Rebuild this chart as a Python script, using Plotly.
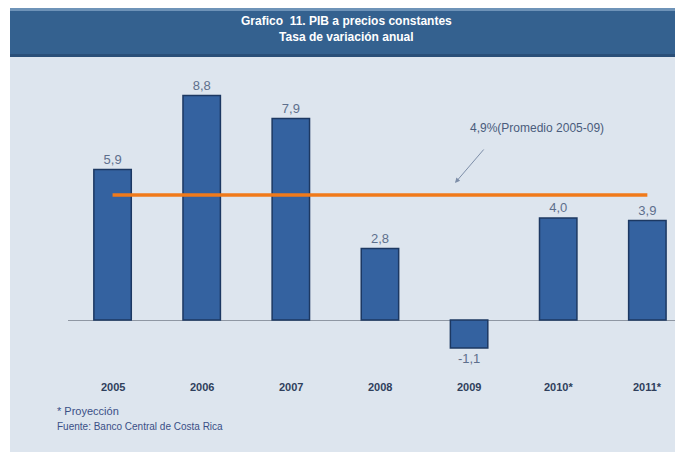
import plotly.graph_objects as go

categories = ["2005", "2006", "2007", "2008", "2009", "2010*", "2011*"]
values = [5.9, 8.8, 7.9, 2.8, -1.1, 4.0, 3.9]
value_labels = ["5,9", "8,8", "7,9", "2,8", "-1,1", "4,0", "3,9"]
average = 4.9
average_label = "4,9%(Promedio 2005-09)"
title_lines = ["Grafico  11. PIB a precios constantes", "Tasa de variación anual"]
footnotes = ["* Proyección", "Fuente: Banco Central de Costa Rica"]

OFF = 8  # page body margin
W, H = 683, 452
ML, MR, MT, MB = 68 - OFF, 8, 65 - OFF, H - (445 - OFF)
pw, ph = W - ML - MR, H - MT - MB


def px(xs):
    return (xs - OFF - ML) / pw


def py(ys):
    return (H - MB - (ys - OFF)) / ph


fig = go.Figure()

fig.add_trace(go.Bar(
    x=list(range(len(categories))), y=values,
    text=value_labels, textposition="outside",
    textfont=dict(family="Liberation Sans", size=13, color="#5d6f8c"),
    marker=dict(color="#3462a0", line=dict(color="#1c3862", width=1.5)),
    width=0.42, cliponaxis=False, showlegend=False,
))

fig.add_trace(go.Scatter(
    x=[0, len(categories) - 1], y=[average, average], mode="lines",
    line=dict(color="#f07a1a", width=3.5), showlegend=False, hoverinfo="skip",
))

shapes = [
    dict(type="rect", xref="paper", yref="paper", x0=px(10), x1=px(W + OFF), y0=py(H + OFF), y1=py(57),
         fillcolor="#dde5ee", line=dict(width=0), layer="below"),
    dict(type="rect", xref="paper", yref="paper", x0=px(10), x1=px(W + OFF), y0=py(57), y1=py(8),
         fillcolor="#34618f", line=dict(width=0), layer="below"),
    dict(type="rect", xref="paper", yref="paper", x0=px(10), x1=px(W + OFF), y0=py(11), y1=py(8),
         fillcolor="#6e93b8", line=dict(width=0), layer="below"),
    dict(type="rect", xref="paper", yref="paper", x0=px(10), x1=px(W + OFF), y0=py(57), y1=py(54),
         fillcolor="#2a4f78", line=dict(width=0), layer="below"),
]

annotations = [
    dict(xref="paper", yref="paper", x=px(346), y=py(29), text="<br>".join("<b>%s</b>" % t for t in title_lines),
         showarrow=False, font=dict(family="Liberation Sans", size=12, color="white"),
         xanchor="center", yanchor="middle"),
    dict(xref="paper", yref="paper", x=px(537), y=py(128), text=average_label, showarrow=False,
         font=dict(family="Liberation Sans", size=12, color="#4a5c7c"),
         xanchor="center", yanchor="middle"),
    dict(xref="paper", yref="paper", x=px(455), y=py(183), ax=30, ay=-35,
         showarrow=True, arrowhead=2, arrowsize=1,
         arrowwidth=1, arrowcolor="#7d8ea8", text=""),
]

for i, c in enumerate(categories):
    annotations.append(dict(x=i, y=-2.63, xref="x", yref="y", text="<b>%s</b>" % c,
                            showarrow=False,
                            font=dict(family="Liberation Sans", size=11, color="#2f3f5c")))

annotations.append(dict(xref="paper", yref="paper", x=px(55), y=py(411), text=footnotes[0],
                        showarrow=False, xanchor="left", yanchor="middle",
                        font=dict(family="Liberation Sans", size=11, color="#3a4f86")))
annotations.append(dict(xref="paper", yref="paper", x=px(55), y=py(426), text=footnotes[1],
                        showarrow=False, xanchor="left", yanchor="middle",
                        font=dict(family="Liberation Sans", size=10, color="#3a4f86")))

fig.update_layout(
    width=W, height=H,
    margin=dict(l=ML, r=MR, t=MT, b=MB),
    paper_bgcolor="white", plot_bgcolor="rgba(0,0,0,0)",
    shapes=shapes, annotations=annotations,
    xaxis=dict(range=[-0.5, 6.4], showgrid=False, showticklabels=False, zeroline=False,
               showline=False, ticks=""),
    yaxis=dict(range=[-4.9, 10.0], showgrid=False, showticklabels=False, zeroline=True,
               zerolinecolor="#8f97a3", zerolinewidth=1, showline=False, ticks=""),
    bargap=0.5,
)

fig.write_html("out.html")
